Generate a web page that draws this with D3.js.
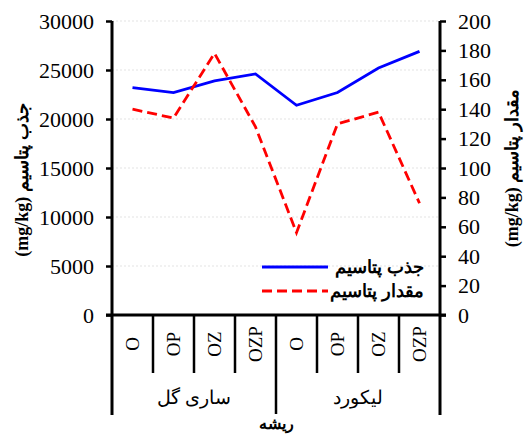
<!DOCTYPE html>
<html>
<head>
<meta charset="utf-8">
<script src="https://cdn.jsdelivr.net/npm/d3@7"></script>
<style>
  body { margin: 0; background: #fff; }
  svg text { font-family: "Liberation Serif", "Times New Roman", serif; }
</style>
</head>
<body>
<svg id="chart" width="524" height="435"></svg>
<script>
// data
const treatments = ["O", "OP", "OZ", "OZP", "O", "OP", "OZ", "OZP"];
const groups = ["ساری گل", "لیکورد"];
const uptake = [23200, 22700, 23900, 24600, 21400, 22700, 25200, 26900];   // جذب پتاسیم, left axis
const content = [140, 134, 178, 128, 56, 130, 138, 76];                      // مقدار پتاسیم, right axis
const leftTicks = [0, 5000, 10000, 15000, 20000, 25000, 30000];
const rightTicks = [0, 20, 40, 60, 80, 100, 120, 140, 160, 180, 200];

const svg = d3.select("#chart");
const plotLeft = 112, plotRight = 440, plotTop = 21, plotBottom = 315;
const serif = "'Liberation Serif', 'Times New Roman', serif";
const sans = "'Liberation Sans', Arial, sans-serif";

const x = d3.scaleBand().domain(d3.range(treatments.length)).range([plotLeft, plotRight]);
const yL = d3.scaleLinear().domain([0, 30000]).range([plotBottom, plotTop]);
const yR = d3.scaleLinear().domain([0, 200]).range([plotBottom, plotTop]);

// gridlines
svg.append("g")
    .selectAll("line")
    .data(leftTicks.slice(1))
    .join("line")
    .attr("x1", plotLeft).attr("x2", plotRight)
    .attr("y1", d => yL(d)).attr("y2", d => yL(d))
    .attr("stroke", "#dcdcdc")
    .attr("stroke-width", 0.8)
    .attr("stroke-dasharray", "2,2");

// left axis
let gL = svg.append("g")
    .attr("transform", `translate(${plotLeft},0)`)
    .call(d3.axisLeft(yL).tickValues(leftTicks).tickSize(6).tickPadding(12).tickFormat(d3.format("d")));
gL.attr("font-family", serif);
gL.select(".domain").attr("stroke", "#000").attr("stroke-width", 3).attr("d", `M0,${plotTop}V${plotBottom + 100}`);
gL.selectAll(".tick line").attr("stroke-width", 2.5);
gL.selectAll(".tick text").style("font-size", "22px").attr("fill", "#000")
    .style("font-family", serif);

// right axis
let gR = svg.append("g")
    .attr("transform", `translate(${plotRight},0)`)
    .call(d3.axisRight(yR).tickValues(rightTicks).tickSize(6).tickPadding(12));
gR.attr("font-family", serif);
gR.select(".domain").attr("stroke", "#000").attr("stroke-width", 3).attr("d", `M0,${plotTop}V${plotBottom + 100}`);
gR.selectAll(".tick line").attr("stroke-width", 2.5);
gR.selectAll(".tick text").style("font-size", "22px").attr("fill", "#000")
    .style("font-family", serif);

// bottom axis line
svg.append("line")
    .attr("x1", plotLeft - 6).attr("x2", plotRight + 6)
    .attr("y1", plotBottom).attr("y2", plotBottom)
    .attr("stroke", "#000").attr("stroke-width", 3);

// category separators
svg.append("g")
    .selectAll("line")
    .data(d3.range(1, treatments.length))
    .join("line")
    .attr("x1", d => x(d)).attr("x2", d => x(d))
    .attr("y1", plotBottom).attr("y2", d => d == 4 ? plotBottom + 99 : plotBottom + 58)
    .attr("stroke", "#000").attr("stroke-width", 2.5);

// treatment labels
svg.append("g")
    .selectAll("text")
    .data(treatments)
    .join("text")
    .attr("transform", (d, i) => `translate(${x(i) + x.bandwidth() / 2},${plotBottom + 29}) rotate(-90)`)
    .attr("text-anchor", "middle")
    .attr("dominant-baseline", "central")
    .style("font-family", serif)
    .style("font-size", "19px")
    .text(d => d);

// group labels
svg.append("g")
    .selectAll("text")
    .data(groups)
    .join("text")
    .attr("x", (d, i) => x(i * 4) + x.bandwidth() * 2)
    .attr("y", 404)
    .attr("text-anchor", "middle")
    .style("font-family", sans)
    .style("font-size", "19px")
    .text(d => d);

svg.append("text")
    .attr("x", (plotLeft + plotRight) / 2)
    .attr("y", 429)
    .attr("text-anchor", "middle")
    .style("font-family", sans)
    .style("font-weight", "bold")
    .style("font-size", "16px")
    .text("ریشه");

// axis titles: latin unit in serif, persian part in sans
const titles = [
    {x: 22, y: 180, label: "جذب پتاسیم"},
    {x: 512, y: 168, label: "مقدار پتاسیم"}
];
for (let i in titles) {
    let t = svg.append("text")
        .attr("transform", `translate(${titles[i].x},${titles[i].y}) rotate(-90)`)
        .attr("text-anchor", "middle")
        .attr("dominant-baseline", "central")
        .style("font-weight", "bold");
    t.append("tspan").style("font-family", serif).style("font-size", "18px").text("(mg/kg) ");
    t.append("tspan").style("font-family", sans).style("font-size", "18px").text(titles[i].label);
}

// lines
const cx = i => x(i) + x.bandwidth() / 2;

svg.append("path")
    .datum(uptake)
    .attr("fill", "none")
    .attr("stroke", "#0000ff")
    .attr("stroke-width", 2.8)
    .attr("d", d3.line().x((d, i) => cx(i)).y(d => yL(d)));

svg.append("path")
    .datum(content)
    .attr("fill", "none")
    .attr("stroke", "#ff0000")
    .attr("stroke-width", 2.8)
    .attr("stroke-dasharray", "10,5")
    .attr("d", d3.line().x((d, i) => cx(i)).y(d => yR(d)));

// legend
const legend = [
    {label: "جذب پتاسیم", color: "#0000ff", dash: null, y: 267},
    {label: "مقدار پتاسیم", color: "#ff0000", dash: "10,5", y: 291}
];
for (let i in legend) {
    svg.append("line")
        .attr("x1", 262).attr("x2", 328)
        .attr("y1", legend[i].y).attr("y2", legend[i].y)
        .attr("stroke", legend[i].color)
        .attr("stroke-width", 2.8)
        .attr("stroke-dasharray", legend[i].dash);
    svg.append("text")
        .attr("x", 424)
        .attr("y", legend[i].y)
        .attr("text-anchor", "end")
        .attr("dominant-baseline", "central")
        .style("font-family", sans)
        .style("font-weight", "bold")
        .style("font-size", "18px")
        .text(legend[i].label);
}
</script>
</body>
</html>
